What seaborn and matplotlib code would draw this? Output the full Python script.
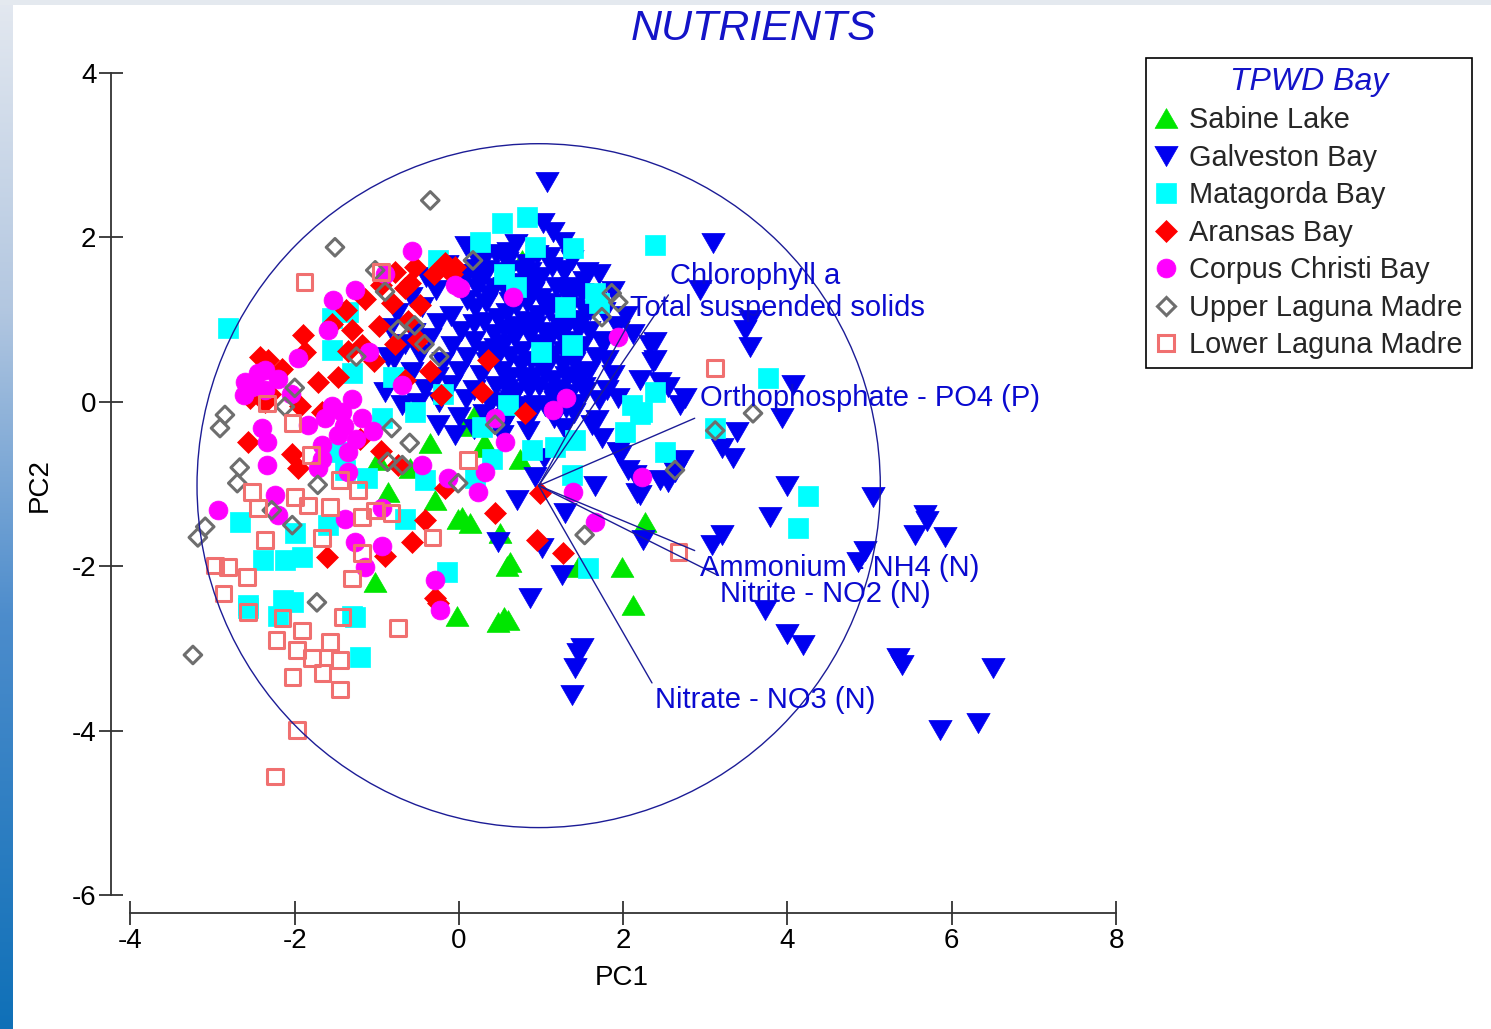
import numpy as np
import pandas as pd
import matplotlib
matplotlib.use("Agg")
import matplotlib.pyplot as plt
import seaborn as sns
from matplotlib.path import Path
from matplotlib.lines import Line2D
from matplotlib.patches import Circle

# ---------------- data (PC1, PC2 scores) ----------------
sabine_lake = [(-0.86, -1.10), (-0.99, -0.71), (-0.29, -1.19), (-0.01, -1.42), (0.04, -1.40),
               (0.13, -1.48), (0.50, -1.60), (0.62, -1.95), (0.58, -2.00), (-1.02, -2.19),
               (-0.02, -2.60), (0.47, -2.68), (0.60, -2.66), (0.55, -2.62), (1.45, -2.01),
               (1.98, -2.01), (2.12, -2.47), (2.26, -1.46), (0.74, -0.69), (0.34, -0.55),
               (0.30, -0.50), (0.77, 1.72), (-0.35, -0.50), (0.05, -0.30), (-0.60, -0.80),
               (0.20, -0.15)]

galveston_bay = [
    (1.07, 2.67), (3.09, 1.93), (2.93, 1.36), (3.54, 1.00), (3.54, 0.67), (3.48, 0.87),
    (4.07, 0.20), (3.93, -0.20), (3.39, -0.37), (3.34, -0.68), (3.99, -1.02), (3.79, -1.40),
    (5.04, -1.16), (5.67, -1.38), (5.55, -1.62), (5.92, -1.65), (5.70, -1.45), (4.94, -1.81),
    (4.86, -1.95), (3.08, -1.74), (3.73, -2.53), (3.99, -2.83), (4.19, -2.96), (5.39, -3.20),
    (5.34, -3.12), (6.50, -3.24), (5.86, -3.99), (6.32, -3.91), (1.50, -3.00), (1.41, -3.24),
    (1.37, -3.57), (1.45, -3.05), (0.86, -2.39), (1.25, -2.11), (0.71, -1.20), (1.01, -1.78),
    (0.47, -1.70), (1.29, -1.35), (1.66, -1.03), (2.17, -1.11), (2.24, -1.68), (1.03, -0.68),
    (0.93, -0.91), (1.94, -0.61), (2.06, -0.83), (2.63, -0.85), (2.71, -0.71), (2.55, -0.98),
    (3.20, -1.62), (1.62, -0.28), (1.74, -0.44), (-0.05, -0.40), (0.52, -0.40), (3.20, -0.56),
    (2.75, 0.05), (1.94, 0.05), (1.53, 0.12), (2.33, 0.69), (2.36, 0.48), (2.20, 0.26),
    (2.55, 0.18), (2.69, -0.04), (1.96, -0.65), (2.14, -0.89), (2.45, -0.95), (2.20, -1.13),
    (1.02, 2.18), (1.14, 2.06), (1.27, 1.94), (1.13, 1.64), (1.29, 1.60), (1.56, 1.58),
    (1.29, 1.33), (1.53, 1.11), (1.74, 0.73), (2.39, 0.73), (2.39, 0.51), (1.80, 0.51),
    (1.51, 0.35), (2.45, 0.24), (0.56, 1.76), (0.35, 1.60), (0.20, 1.56), (0.77, 1.60),
    (0.89, 1.40), (-0.86, 0.54), (-0.69, -0.04), (-0.50, -0.01), (-0.26, -0.28), (-0.90, 0.12),
    (0.08, 1.90), (0.45, 1.80), (0.70, 1.92), (0.95, 1.78), (0.30, 1.74),
    (-0.15, 1.66), (0.20, 1.62), (0.58, 1.70), (0.86, 1.58), (1.10, 1.76), (1.38, 1.72),
    (-0.40, 1.52), (-0.02, 1.44), (0.25, 1.50), (0.43, 1.38), (0.75, 1.45), (1.00, 1.52),
    (1.18, 1.40), (1.52, 1.47), (1.70, 1.56),
    (-0.58, 1.27), (-0.28, 1.36), (0.10, 1.24), (0.36, 1.30), (0.62, 1.21), (0.90, 1.34),
    (1.12, 1.20), (1.36, 1.28), (1.65, 1.22), (1.88, 1.35),
    (-0.75, 1.08), (-0.45, 1.15), (-0.10, 1.04), (0.20, 1.14), (0.47, 1.02), (0.70, 1.16),
    (0.96, 1.05), (1.22, 1.13), (1.48, 1.00), (1.76, 1.09), (2.03, 1.04),
    (-0.84, 0.90), (-0.55, 0.84), (-0.25, 0.96), (0.02, 0.86), (0.30, 0.97), (0.55, 0.88),
    (0.80, 0.98), (1.06, 0.85), (1.32, 0.93), (1.58, 0.86), (1.92, 0.92),
    (-0.66, 0.70), (-0.35, 0.78), (-0.08, 0.68), (0.18, 0.74), (0.44, 0.66), (0.68, 0.79),
    (0.97, 0.70), (1.24, 0.80), (1.50, 0.68), (1.78, 0.74), (2.12, 0.82),
    (-0.79, 0.52), (-0.48, 0.58), (-0.20, 0.49), (0.10, 0.55), (0.34, 0.48), (0.62, 0.56),
    (0.88, 0.50), (1.15, 0.57), (1.40, 0.48), (1.67, 0.55),
    (-0.57, 0.36), (-0.27, 0.30), (0.00, 0.38), (0.27, 0.32), (0.52, 0.38), (0.78, 0.29),
    (1.03, 0.36), (1.30, 0.31), (1.58, 0.37), (1.88, 0.33),
    (-0.42, 0.16), (-0.10, 0.20), (0.18, 0.14), (0.45, 0.19), (0.70, 0.12), (0.98, 0.19),
    (1.24, 0.15), (1.52, 0.18), (1.80, 0.14),
    (-0.24, 0.00), (0.08, 0.03), (0.38, -0.02), (0.63, 0.02), (0.92, -0.04), (1.17, 0.01),
    (1.43, -0.03), (1.70, 0.02),
    (0.00, -0.18), (0.30, -0.15), (0.58, -0.20), (0.88, -0.16), (1.16, -0.20), (1.40, -0.14),
    (1.68, -0.22), (0.18, -0.33), (0.52, -0.30), (0.84, -0.35), (1.28, -0.32),
    (0.60, 1.82), (0.18, 1.80), (0.83, 1.68), (0.10, 1.56), (0.60, 1.58), (1.28, 1.58),
    (0.55, 1.40), (0.88, 1.44), (1.36, 1.40), (0.22, 1.38), (0.75, 1.30), (1.00, 1.26),
    (1.50, 1.32), (0.33, 1.20), (0.83, 1.20), (1.35, 1.15), (1.60, 1.12), (0.58, 1.08),
    (1.09, 1.10), (0.18, 0.95), (0.68, 0.92), (0.93, 0.92), (1.20, 0.95), (1.45, 0.90),
    (0.43, 0.82), (0.85, 0.82), (1.10, 0.75), (1.38, 0.74), (0.55, 0.70), (0.30, 0.62),
    (0.77, 0.62), (1.02, 0.60), (1.28, 0.62), (0.45, 0.52), (0.75, 0.45), (1.00, 0.48),
    (1.27, 0.45), (0.62, 0.30), (0.90, 0.30), (1.15, 0.26), (1.42, 0.26), (0.58, 0.15),
    (0.85, 0.15), (1.12, 0.12), (1.35, 0.10), (0.50, 0.00), (0.78, -0.05), (1.05, -0.05),
    (1.30, -0.08)]

matagorda_bay = [
    (-2.81, 0.90), (2.39, 1.91), (3.76, 0.29), (4.25, -1.15), (4.13, -1.54), (-1.21, -3.11),
    (-1.30, -2.61), (-0.15, -2.07), (1.57, -2.02), (2.51, -0.61), (2.23, -0.13), (3.12, -0.32),
    (1.38, -0.89), (0.89, -0.59), (1.17, -0.55), (1.41, -0.46), (0.19, -0.93), (0.28, -0.31),
    (0.60, -0.04), (2.02, -0.37), (2.11, -0.04), (2.39, 0.12), (0.26, 1.94), (0.52, 2.17),
    (0.83, 2.25), (0.93, 1.88), (1.39, 1.87), (1.66, 1.32), (1.38, 0.69), (0.55, 1.55),
    (1.29, 1.15), (1.70, 1.20), (2.20, -0.15), (-2.67, -1.46), (-2.39, -1.93), (-2.12, -1.93),
    (-1.91, -1.89), (-2.00, -1.60), (-1.60, -1.50), (-0.66, -1.42), (-0.41, -0.95), (-1.12, -0.93),
    (-1.39, -0.83), (-1.47, -0.61), (-0.94, -0.20), (-0.54, -0.12), (-2.57, -2.47), (-2.14, -2.41),
    (-2.02, -2.44), (-2.57, -2.51), (-1.27, -2.62), (-2.20, -2.60), (-0.26, 1.72), (-1.35, 1.09),
    (-1.55, 1.02), (-1.55, 0.63), (-1.30, 0.35), (0.70, 1.40), (-0.80, 0.30), (-0.20, 0.10),
    (0.40, -0.70), (1.00, 0.60)]

aransas_bay = [
    (-0.54, 1.64), (-0.17, 1.69), (-0.08, 1.55), (-0.66, 1.38), (-0.82, 1.20), (-1.90, 0.81),
    (-1.30, 0.87), (-1.18, 0.69), (-0.98, 0.92), (-2.33, 0.51), (-1.72, 0.24), (-0.50, 0.75),
    (-2.57, -0.49), (-2.03, -0.63), (-1.96, -0.80), (-0.41, -1.44), (-0.57, -1.71), (-1.61, -1.89),
    (-0.90, -1.87), (-0.29, -2.39), (-0.25, -2.45), (-0.17, -1.05), (-0.74, -0.77), (-1.67, -0.12),
    (-2.36, 0.00), (0.44, -1.35), (0.99, -1.11), (0.95, -1.68), (1.27, -1.84), (0.80, -0.14),
    (0.28, 0.12), (-0.05, 1.64), (0.35, 0.51), (-1.87, 0.60), (-1.55, 0.95), (-1.38, 1.12),
    (-1.15, 1.25), (-0.95, 1.42), (-0.78, 1.58), (-0.60, 1.45), (-0.30, 1.55), (-0.48, 1.18),
    (-0.62, 0.98), (-0.78, 0.70), (-1.35, 0.62), (-1.03, 0.50), (-0.66, 0.27), (-0.35, 0.38),
    (-0.22, 0.08), (-1.94, -0.05), (-2.30, 0.10), (-2.55, 0.05), (-2.15, 0.40), (-2.42, 0.55),
    (-1.47, 0.30), (-1.20, -0.45), (-0.95, -0.60)]

corpus_christi_bay = [
    (-2.40, -0.32), (-2.34, -0.49), (-2.34, -0.77), (-2.93, -1.32), (-2.24, -1.13), (-2.20, -1.38),
    (-1.84, -0.28), (-1.63, -0.20), (-1.42, -0.12), (-1.30, 0.04), (-1.18, -0.20), (-1.47, -0.40),
    (-1.35, -0.61), (-1.67, -0.69), (-1.72, -0.81), (-1.35, -0.86), (-1.05, -0.35), (-1.67, -0.52),
    (-1.40, -0.30), (-1.25, -0.45), (-1.55, -0.05), (-1.39, -1.42), (-1.27, -1.71), (-0.94, -1.75),
    (-1.14, -2.01), (-0.13, -0.93), (-0.29, -2.17), (-0.45, -0.77), (-0.94, -1.29), (-2.52, 0.18),
    (-2.36, 0.14), (-2.62, 0.08), (-2.45, 0.35), (-2.20, 0.28), (-2.05, 0.10), (-0.57, 1.84),
    (-1.27, 1.36), (-1.53, 1.24), (-0.90, 1.56), (-1.60, 0.87), (-1.96, 0.53), (-2.36, 0.39),
    (-2.61, 0.24), (-0.05, 1.42), (0.56, -0.49), (0.23, -1.10), (0.32, -0.86), (1.14, -0.10),
    (1.39, -1.10), (2.23, -0.92), (1.66, -1.46), (0.44, -0.20), (1.30, 0.05), (1.94, 0.79),
    (0.66, 1.28), (0.01, 1.38), (-0.23, -2.53), (-1.10, 0.60), (-0.70, 0.20)]

upper_laguna_madre = [
    (-0.35, 2.45), (-1.51, 1.88), (-1.02, 1.60), (-2.85, -0.16), (-2.91, -0.32), (-2.67, -0.80),
    (-2.70, -0.99), (-3.09, -1.52), (-3.18, -1.65), (-2.28, -1.32), (-2.03, -1.50), (-2.12, -0.06),
    (-1.72, -1.01), (-0.82, -0.32), (-0.87, -0.73), (-0.69, -0.77), (-1.73, -2.44), (-2.00, 0.17),
    (-3.24, -3.08), (1.53, -1.62), (3.12, -0.35), (3.58, -0.14), (0.17, 1.72), (1.86, 1.32),
    (1.94, 1.21), (1.74, 1.03), (2.63, -0.83), (0.44, -0.28), (-0.01, -0.99), (-0.90, 1.34),
    (-0.54, 0.93), (-0.74, 0.88), (-0.24, 0.55), (-0.42, 0.70), (-1.25, 0.55), (-0.60, -0.50)]

lower_laguna_madre = [
    (-1.88, 1.46), (-0.95, 1.58), (3.12, 0.41), (2.67, -1.83), (-2.03, -0.26), (-2.52, -1.10),
    (-2.45, -1.29), (-2.00, -1.16), (-1.84, -1.26), (-1.57, -1.28), (-1.23, -1.07), (-1.18, -1.40),
    (-1.02, -1.32), (-1.67, -1.66), (-2.36, -1.68), (-1.18, -1.84), (-1.30, -2.15), (-0.32, -1.65),
    (-2.97, -1.99), (-2.81, -2.01), (-2.58, -2.13), (-2.87, -2.33), (0.11, -0.71), (-2.34, -0.02),
    (-0.82, -1.35), (-2.57, -2.56), (-2.15, -2.63), (-2.22, -2.90), (-1.91, -2.78), (-1.97, -3.02),
    (-1.79, -3.12), (-1.57, -2.92), (-1.45, -3.14), (-1.66, -3.30), (-2.03, -3.35), (-1.45, -3.50),
    (-1.42, -2.62), (-0.74, -2.75), (-1.97, -3.99), (-2.24, -4.56), (-1.80, -0.65), (-1.45, -0.95)]

group_names = ["Sabine Lake", "Galveston Bay", "Matagorda Bay", "Aransas Bay",
               "Corpus Christi Bay", "Upper Laguna Madre", "Lower Laguna Madre"]

# variable loadings (vector tips) and their labels
loading_names = ["Chlorophyll a", "Total suspended solids", "Orthophosphate - PO4 (P)",
                 "Ammonium - NH4 (N)", "Nitrite - NO2 (N)", "Nitrate - NO3 (N)"]
loading_x = [2.55, 2.08, 2.87, 2.87, 3.15, 2.35]
loading_y = [1.30, 0.98, -0.20, -1.81, -2.11, -3.42]
label_x = [2.57, 2.08, 2.93, 2.93, 3.18, 2.39]
label_y = [1.53, 1.14, 0.05, -2.02, -2.34, -3.63]
origin = (0.97, -1.02)
circle_radius = 4.16

x_ticks = [-4, -2, 0, 2, 4, 6, 8]
y_ticks = [-6, -4, -2, 0, 2, 4]

# ---------------- styling ----------------
sns.set_theme(style="white")
plt.rcParams['font.family'] = ['Liberation Sans', 'DejaVu Sans']
plt.rcParams['axes.unicode_minus'] = False

tri_down = Path([(-1, 0.866), (1, 0.866), (0, -0.866), (-1, 0.866)],
                [Path.MOVETO, Path.LINETO, Path.LINETO, Path.CLOSEPOLY])
tri_up = Path([(-1, -0.866), (1, -0.866), (0, 0.866), (-1, -0.866)],
              [Path.MOVETO, Path.LINETO, Path.LINETO, Path.CLOSEPOLY])

styles = {
    "Sabine Lake":        dict(marker=tri_up, s=270, fc="#00e600", ec="#00e600", lw=0.5),
    "Galveston Bay":      dict(marker=tri_down, s=280, fc="#0000f0", ec="#0000f0", lw=0.5),
    "Matagorda Bay":      dict(marker="s", s=205, fc="#00ffff", ec="#00ffff", lw=0.5),
    "Aransas Bay":        dict(marker="D", s=125, fc="#ff0000", ec="#ff0000", lw=0.5),
    "Corpus Christi Bay": dict(marker="o", s=185, fc="#ff00ff", ec="#ff00ff", lw=0.5),
    "Upper Laguna Madre": dict(marker="D", s=80, fc="none", ec="#6e6e6e", lw=2.2),
    "Lower Laguna Madre": dict(marker="s", s=125, fc="none", ec="#f07070", lw=2.2),
}
group_data = {
    "Sabine Lake": sabine_lake, "Galveston Bay": galveston_bay,
    "Matagorda Bay": matagorda_bay, "Aransas Bay": aransas_bay,
    "Corpus Christi Bay": corpus_christi_bay, "Upper Laguna Madre": upper_laguna_madre,
    "Lower Laguna Madre": lower_laguna_madre,
}
draw_order = ["Sabine Lake", "Galveston Bay", "Matagorda Bay", "Aransas Bay",
              "Corpus Christi Bay", "Upper Laguna Madre", "Lower Laguna Madre"]

W, H = 1491, 1029
fig = plt.figure(figsize=(W / 100, H / 100), dpi=100, facecolor="white")

# slide background: light top band and a blue gradient strip on the left
bg = fig.add_axes([0, 0, 1, 1], zorder=-10)
bg.set_xlim(0, W)
bg.set_ylim(H, 0)
bg.axis("off")
bg.axhspan(0, 5, color="#e4e9ef", lw=0)
stops = np.array([[0.00, 0.89, 0.91, 0.94],
                  [0.30, 0.70, 0.78, 0.88],
                  [0.60, 0.30, 0.55, 0.80],
                  [1.00, 0.06, 0.44, 0.72]])
tt = np.linspace(0, 1, 256)
grad = np.stack([np.interp(tt, stops[:, 0], stops[:, k]) for k in (1, 2, 3)], axis=-1)
bg.imshow(grad[:, None, :], extent=(0, 13, H, 0), aspect="auto", interpolation="bilinear")

ax = fig.add_axes([111 / W, 1 - 913 / H, (1120 - 111) / W, (913 - 69) / H])

for name in draw_order:
    pts = group_data[name]
    df = pd.DataFrame(pts, columns=["PC1", "PC2"])
    st = styles[name]
    sns.scatterplot(data=df, x="PC1", y="PC2", ax=ax, marker=st["marker"], s=st["s"],
                    color=st["ec"], facecolor=st["fc"], edgecolor=st["ec"],
                    linewidth=st["lw"], legend=False, zorder=2)

navy = "#1c1c96"
ax.add_patch(Circle(origin, circle_radius, fill=False, ec=navy, lw=1.0, zorder=4))
for lx, ly in zip(loading_x, loading_y):
    ax.plot([origin[0], lx], [origin[1], ly], color=navy, lw=1.0, zorder=4)
for name, tx, ty in zip(loading_names, label_x, label_y):
    ax.text(tx, ty, name, ha="left", va="center", fontsize=21, color="#0a0ad0", zorder=5)

ax.set_xlim(-4.2374, 8.0487)
ax.set_ylim(-6.219, 4.0487)
ax.set_xticks(x_ticks)
ax.set_yticks(y_ticks)
ax.set_xticklabels([str(v) for v in x_ticks])
ax.set_yticklabels([str(v) for v in y_ticks])
for sp in ["top", "right"]:
    ax.spines[sp].set_visible(False)
for sp in ["left", "bottom"]:
    ax.spines[sp].set_color("#333333")
    ax.spines[sp].set_linewidth(1.3)
ax.spines["left"].set_bounds(-6, 4)
ax.spines["bottom"].set_bounds(-4, 8)
ax.tick_params(bottom=True, left=True, direction="inout", length=17, width=1.3,
               color="#333333", labelsize=20, labelcolor="black", pad=2)
ax.set_facecolor("none")

ax.set_xlabel("PC1", fontsize=20, color="black")
ax.set_ylabel("PC2", fontsize=20, color="black")
ax.xaxis.set_label_coords(0.5064, -0.062)
ax.yaxis.set_label_coords(-0.058, 0.507)

fig.text(754 / W, 1 - 29 / H, "NUTRIENTS", ha="center", va="center", fontsize=31,
         style="italic", color="#1414c8")

handles = []
for name in group_names:
    st = styles[name]
    handles.append(Line2D([0], [0], linestyle="none", marker=st["marker"],
                          markersize=np.sqrt(st["s"]), markerfacecolor=st["fc"],
                          markeredgecolor=st["ec"], markeredgewidth=st["lw"]))
leg = fig.legend(handles, group_names, loc="upper left",
                 bbox_to_anchor=(1146 / W, 1 - 58 / H), bbox_transform=fig.transFigure,
                 title="TPWD Bay", fontsize=20.8, frameon=True, fancybox=False,
                 edgecolor="black", framealpha=1, handlelength=0.75, handletextpad=0.45,
                 labelspacing=0.33, borderpad=0.3, borderaxespad=0)
leg.get_title().set_color("#1414c8")
leg.get_title().set_fontstyle("italic")
leg.get_title().set_fontsize(23)
leg.get_frame().set_linewidth(1.2)

fig.savefig("out.png", dpi=100, facecolor="white")
